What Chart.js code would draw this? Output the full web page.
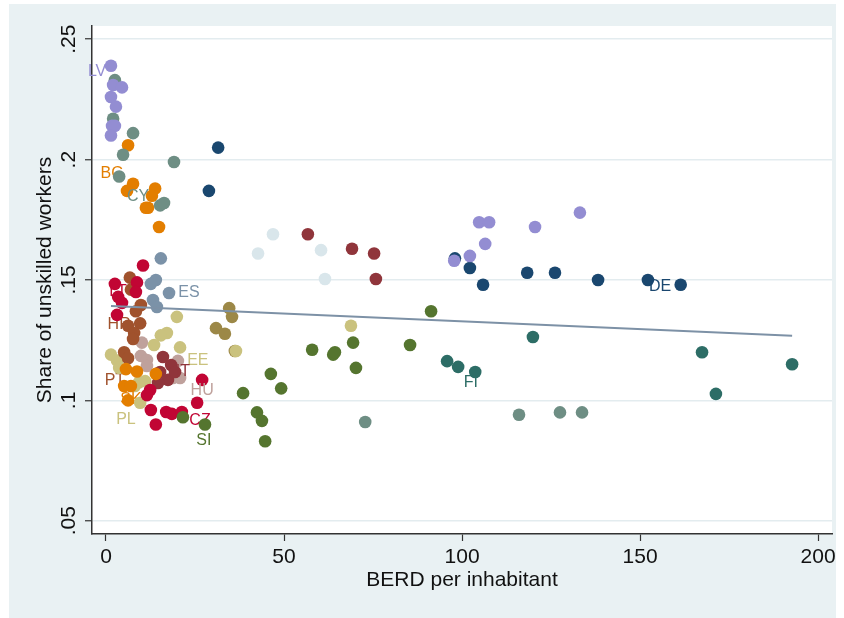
<!DOCTYPE html>
<html lang="en">
<head>
  <meta charset="UTF-8" />
  <title>Share of unskilled workers vs BERD per inhabitant</title>
  <script src="https://cdn.jsdelivr.net/npm/chart.js"></script>
  <style>
    html, body { margin: 0; padding: 0; background: #fff; }
    canvas { display: block; }
  </style>
</head>
<body>
  <canvas id="grafico" width="844" height="618"></canvas>

  <script>
    // ticks
    const xTicks = [0, 50, 100, 150, 200];
    const yTicks = [0.05, 0.1, 0.15, 0.2, 0.25];

    // points per marker colour, [BERD per inhabitant, share of unskilled workers]
    const lavender = [[1.4, .239], [2.0, .231], [4.5, .230], [1.4, .226], [2.8, .222], [1.7, .214], [2.5, .214], [1.4, .210],
      [104.8, .174], [107.6, .174], [120.5, .172], [133.1, .178], [106.5, .165], [102.2, .160], [97.8, .158]];
    const teal = [[2.5, .233], [2.0, .217], [7.6, .211], [4.8, .202], [19.1, .199], [3.7, .193], [15.2, .181], [16.3, .182],
      [72.8, .091], [116.0, .094], [127.5, .095], [133.7, .095]];
    const orange = [[6.2, .206], [7.6, .190], [5.9, .187], [13.8, .188], [12.9, .185], [11.8, .180], [11.2, .180], [14.9, .172],
      [5.6, .113], [8.7, .112], [14.0, .111], [5.1, .106], [7.0, .106], [6.2, .100]];
    const navy = [[31.5, .205], [28.9, .187], [98.0, .159], [102.2, .155], [105.9, .148], [118.3, .153], [126.1, .153],
      [138.2, .150], [152.2, .150], [161.4, .148]];
    const forest = [[91.3, .137], [57.9, .121], [63.8, .119], [64.3, .120], [69.4, .124], [70.2, .1135], [85.4, .123],
      [46.3, .111], [49.2, .105], [38.5, .103], [42.4, .095], [43.8, .0915], [44.7, .083], [21.6, .093], [27.8, .090]];
    const cranberry = [[10.4, .156], [2.5, .1484], [8.7, .149], [3.4, .143], [8.4, .145], [3.1, .1355], [4.5, .1405],
      [27.0, .1085], [25.6, .099], [12.6, .096], [16.9, .0952], [18.5, .0944], [21.3, .0952], [14.0, .090], [12.4, .1043], [11.5, .1022]];
    const sienna = [[6.7, .151], [7.0, .146], [9.8, .1396], [8.4, .137], [9.6, .132], [6.2, .131], [7.9, .128], [7.6, .1255],
      [5.1, .120], [6.2, .1175]];
    const khaki = [[19.9, .1347], [17.1, .128], [15.4, .127], [13.5, .123], [20.8, .122], [1.4, .119], [3.1, .1165], [3.7, .1135],
      [9.3, .1075], [8.1, .106], [9.6, .099], [11.0, .108], [68.8, .131], [36.5, .1205]];
    const emidblue = [[15.4, .159], [14.0, .150], [12.6, .1484], [17.7, .1446], [13.2, .1417], [14.3, .1388]];
    const emerald = [[95.8, .1163], [98.9, .1139], [103.7, .1118], [119.9, .1263], [167.4, .120], [171.3, .1027], [192.7, .115]];
    const brown = [[34.6, .1383], [35.4, .1347], [30.9, .130], [33.4, .1277], [36.2, .1205]];
    const maroon = [[56.7, .169], [69.1, .163], [75.3, .161], [75.8, .1504], [16.0, .118], [18.3, .1147], [15.2, .1118],
      [17.4, .1085], [14.6, .1072], [19.4, .1118]];
    const erose = [[10.1, .124], [9.8, .1185], [11.5, .1168], [20.2, .1164], [18.8, .1093], [20.8, .1093], [11.5, .1143]];
    const bluishgray = [[46.9, .169], [42.7, .161], [60.4, .1624], [61.5, .1504]];

    // fitted values at both ends
    const fitLine = [[1.4, .1392], [192.7, .1268]];

    // country labels: text, x, y, colour, drawn under the markers
    const etiquetas = [
      ['LV', -2.5, .2364, '#938dd2', false],
      ['BG', 1.7, .194, '#e37e00', true],
      ['CY', 9.0, .1845, '#6e8e84', false],
      ['LT', 3.4, .145, '#c10534', true],
      ['HR', 3.7, .1313, '#a0522d', true],
      ['PT', 2.5, .1081, '#a0522d', true],
      ['SK', 7.0, .1002, '#e37e00', true],
      ['PL', 5.6, .0919, '#cac27e', false],
      ['ES', 23.3, .1446, '#7b92a8', false],
      ['EE', 25.8, .1164, '#cac27e', false],
      ['IT', 21.6, .1118, '#90353b', false],
      ['HU', 27.0, .1039, '#bfa19c', false],
      ['CZ', 26.4, .0915, '#c10534', true],
      ['SI', 27.5, .0831, '#55752f', false],
      ['FI', 102.5, .1072, '#2d6d66', false],
      ['DE', 155.6, .1471, '#1a476f', false]
    ];

    const grupos = [
      [lavender, '#938dd2'], [teal, '#6e8e84'], [orange, '#e37e00'], [navy, '#1a476f'],
      [forest, '#55752f'], [cranberry, '#c10534'], [sienna, '#a0522d'], [khaki, '#cac27e'],
      [emidblue, '#7b92a8'], [emerald, '#2d6d66'], [brown, '#9c8847'], [maroon, '#90353b'],
      [erose, '#bfa19c'], [bluishgray, '#d9e6eb']
    ];

    const aPuntos = arr => arr.map(p => ({ x: p[0], y: p[1] }));

    const datasets = [{
      type: 'line',
      data: aPuntos(fitLine),
      borderColor: '#7d91a6',
      borderWidth: 2,
      pointRadius: 0,
      fill: false,
      order: 0
    }];
    grupos.forEach((g, i) => {
      datasets.push({
        data: aPuntos(g[0]),
        backgroundColor: g[1],
        borderWidth: 0,
        pointRadius: 6.3,
        order: i + 1
      });
    });

    function dibujarEtiquetas(chart, detras) {
      const ctx = chart.ctx;
      const xs = chart.scales.x, ys = chart.scales.y;
      ctx.save();
      ctx.font = '16px "Liberation Sans", Arial, sans-serif';
      ctx.textAlign = 'center';
      ctx.textBaseline = 'middle';
      etiquetas.forEach(e => {
        if (e[4] !== detras) return;
        ctx.fillStyle = e[3];
        ctx.fillText(e[0], xs.getPixelForValue(e[1]), ys.getPixelForValue(e[2]));
      });
      ctx.restore();
    }

    const fondo = {
      id: 'fondo',
      beforeDraw(chart) {
        const { ctx, chartArea } = chart;
        ctx.save();
        ctx.fillStyle = '#ffffff';
        ctx.fillRect(0, 0, chart.width, chart.height);
        ctx.fillStyle = '#e9f1f3';
        ctx.fillRect(9, 4, 827, 614);
        ctx.fillStyle = '#ffffff';
        ctx.fillRect(chartArea.left, chartArea.top, chartArea.right - chartArea.left, chartArea.bottom - chartArea.top);
        ctx.restore();
      },
      beforeDatasetsDraw(chart) { dibujarEtiquetas(chart, true); },
      afterDatasetsDraw(chart) { dibujarEtiquetas(chart, false); }
    };

    const fuente = { family: '"Liberation Sans", Arial, sans-serif', size: 21 };

    new Chart(document.getElementById('grafico'), {
      type: 'scatter',
      data: { datasets },
      options: {
        responsive: false,
        animation: false,
        events: [],
        layout: { padding: { left: 9, top: 26, right: 12, bottom: 0 } },
        plugins: {
          legend: { display: false },
          tooltip: { enabled: false }
        },
        scales: {
          x: {
            type: 'linear',
            min: -3.93,
            max: 203.9,
            afterBuildTicks: s => { s.ticks = xTicks.map(v => ({ value: v })); },
            afterFit: s => { s.height = 84; s.paddingLeft = 0; s.paddingRight = 0; },
            ticks: { font: fuente, color: '#111', padding: 4, maxRotation: 0 },
            grid: { drawOnChartArea: false, tickLength: 7, tickColor: '#333', tickWidth: 1.2 },
            border: { color: '#333', width: 1.5 },
            title: { display: true, text: 'BERD per inhabitant', font: fuente, color: '#111', padding: { bottom: 25 } }
          },
          y: {
            type: 'linear',
            min: 0.0445,
            max: 0.2555,
            afterBuildTicks: s => { s.ticks = yTicks.map(v => ({ value: v })); },
            afterFit: s => { s.width = 83; s.paddingTop = 0; s.paddingBottom = 0; },
            ticks: {
              font: fuente, color: '#111', padding: 1,
              minRotation: 90, maxRotation: 90, crossAlign: 'center',
              callback: v => String(v).replace(/^0\./, '.')
            },
            grid: { color: '#e3ecef', lineWidth: 1.5, tickLength: 7, tickColor: '#333', tickWidth: 1.2 },
            border: { color: '#333', width: 1.5 },
            title: { display: true, text: 'Share of unskilled workers', font: fuente, color: '#111', padding: { top: 24 } }
          }
        }
      },
      plugins: [fondo]
    });
  </script>
</body>
</html>
